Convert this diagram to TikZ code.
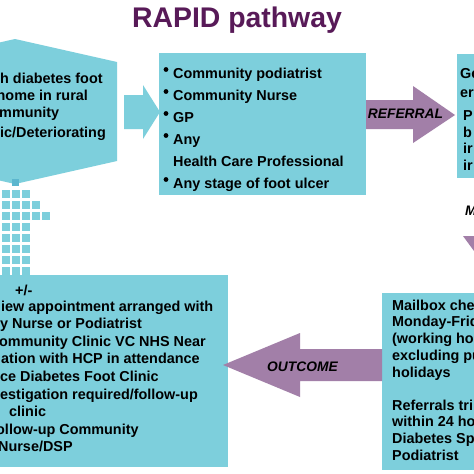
\documentclass[tikz,border=0pt]{standalone}
\usepackage{fontspec}
\setmainfont{Liberation Sans}
\definecolor{boxcyan}{RGB}{125,207,220}
\definecolor{sqdark}{RGB}{92,182,206}
\definecolor{arrowpurple}{RGB}{162,127,168}
\definecolor{titlepurple}{RGB}{88,26,88}
\begin{document}
\begin{tikzpicture}[x=1pt,y=-1pt,
  txt/.style={anchor=base west, inner sep=0pt, font=\bfseries\fontsize{14.4}{17}\selectfont},
  lbl/.style={anchor=base, inner sep=0pt, font=\bfseries\itshape\fontsize{13.8}{16}\selectfont},
  panel/.style={fill=boxcyan, draw=none},
  blockarrow/.style={fill=arrowpurple, draw=none},
  sq/.style={fill=boxcyan, draw=none},
  bul/.style={circle, fill=black, inner sep=0pt, minimum size=4.8pt}]
\useasboundingbox (0,0) rectangle (474,474);
\clip (0,0) rectangle (474,474);
\fill[white] (0,0) rectangle (474,474);

% title
\node[anchor=base, inner sep=0pt, font=\bfseries\fontsize{28.4}{30}\selectfont, text=titlepurple] (title) at (237,27) {RAPID pathway};

% panels
\fill[panel] (-87,62) -- (15,39) -- (117,62) -- (117,161) -- (15,184) -- (-87,161) -- cycle;
\fill[panel] (159,53) rectangle (366,195);
\fill[panel] (457,54) rectangle (480,178);
\fill[panel] (382,293) rectangle (480,470);
\fill[panel] (-10,275) rectangle (228,467);

% block arrows
\fill[panel] (124,95) -- (143,95) -- (143,85) -- (160,112) -- (143,139) -- (143,129) -- (124,129) -- cycle;
\fill[blockarrow] (366,100) -- (413,100) -- (413,86) -- (455,115) -- (413,143) -- (413,129) -- (366,129) -- cycle;
\fill[blockarrow] (382,349) -- (300,349) -- (300,333) -- (223,365) -- (300,397) -- (300,381) -- (382,381) -- cycle;
\fill[blockarrow] (463,236) -- (474,236) -- (474,251) -- cycle;

% pixel arrow
\fill[sqdark] (12,179) rectangle +(7,7);
\foreach \r/\n in {0/3,1/4,2/5,3/3,4/3,5/3,6/3,7/3}{
  \foreach \c in {1,...,\n}{
    \fill[sq] ({2+10*(\c-1)},{190+11*\r}) rectangle +(7.5,7.5);
  }
}

% hexagon text
\node[txt] (h1) at (0,83) {h diabetes foot};
\node[txt] (h2) at (-3.5,100) {home in rural};
\node[txt] (h3) at (-1,117) {mmunity};
\node[txt] (h4) at (0,137) {ic/Deteriorating};

% referrer list
\foreach \y/\t [count=\i] in {78/Community podiatrist,100/Community Nurse,122/GP,144/Any,188/Any stage of foot ulcer}{
  \node[bul] (b\i) at (166,\y-8.5) {};
  \node[txt] (l\i) at (173,\y) {\t};
}
\node[txt] (l6) at (173,166) {Health Care Professional};

% REFERRAL / OUTCOME labels
\node[lbl] (ref) at (405.5,118) {REFERRAL};
\node[lbl] (out) at (302.5,371) {OUTCOME};
\node[lbl, anchor=base west] (m) at (465,215) {M};

% right top box text
\node[txt] (r1) at (460,78) {Ge};
\node[txt] (r2) at (460,97) {er};
\node[txt] (r3) at (463,120) {P};
\node[txt] (r4) at (463,137) {b};
\node[txt] (r5) at (463,153) {ir};
\node[txt] (r6) at (463,170) {ir};

% bottom right text
\node[txt] (m1) at (392,310) {Mailbox chec};
\node[txt] (m2) at (392,326.8) {Monday-Frid};
\node[txt] (m3) at (392,343.6) {(working ho};
\node[txt] (m4) at (392,360.4) {excluding pu};
\node[txt] (m5) at (392,377.2) {holidays};
\node[txt] (m6) at (392,410) {Referrals tri};
\node[txt] (m7) at (392,426.8) {within 24 ho};
\node[txt] (m8) at (392,443.6) {Diabetes Sp};
\node[txt] (m9) at (392,460.4) {Podiatrist};

% bottom left text
\node[txt] (o0) at (15,295) {+/-};
\node[txt] (o1) at (1,311) {iew appointment arranged with};
\node[txt] (o2) at (0,328.6) {y Nurse or Podiatrist};
\node[txt] (o3) at (-1,346.2) {ommunity Clinic VC NHS Near};
\node[txt] (o4) at (1,363.8) {ation with HCP in attendance};
\node[txt] (o5) at (0,381.4) {ce Diabetes Foot Clinic};
\node[txt] (o6) at (0,399) {estigation required/follow-up};
\node[txt] (o7) at (9,416.6) {clinic};
\node[txt] (o8) at (-4,434.2) {ollow-up Community};
\node[txt] (o9) at (-2,451.8) {Nurse/DSP};
\end{tikzpicture}
\end{document}
